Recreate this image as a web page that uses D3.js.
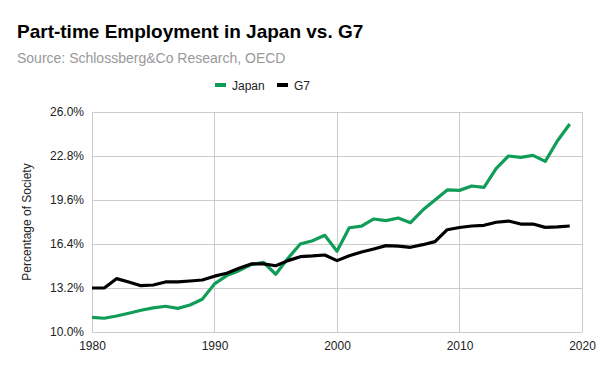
<!DOCTYPE html>
<html><head><meta charset="utf-8">
<script src="https://cdn.jsdelivr.net/npm/d3@7"></script>
<style>body{margin:0;background:#fff}svg{display:block;font-family:"Liberation Sans",Arial,sans-serif}</style>
</head><body>
<script>
const years = d3.range(1980, 2020);
const japan = [11.07,11.0,11.16,11.36,11.58,11.75,11.87,11.72,11.96,12.38,13.5,14.1,14.46,14.9,15.07,14.2,15.36,16.4,16.64,17.03,15.88,17.58,17.7,18.22,18.1,18.29,17.95,18.87,19.6,20.33,20.3,20.62,20.52,21.9,22.8,22.7,22.85,22.41,23.91,25.13];
const g7 = [13.2,13.2,13.88,13.64,13.37,13.42,13.64,13.64,13.71,13.78,14.06,14.27,14.63,14.95,14.95,14.82,15.19,15.48,15.53,15.6,15.19,15.55,15.82,16.04,16.28,16.25,16.16,16.35,16.57,17.44,17.6,17.71,17.76,17.98,18.07,17.85,17.85,17.61,17.64,17.71];
const yTicks = [10.0,13.2,16.4,19.6,22.8,26.0];
const xTicks = [1980,1990,2000,2010,2020];
const seriesNames = ["Japan","G7"];
const colors = ["#0f9d58","#000000"];

const W=600,H=371;
const svg=d3.select("body").append("svg").attr("width",W).attr("height",H);
const m={l:92,r:18,t:112,b:39};
const x=d3.scaleLinear().domain([1980,2020]).range([m.l,W-m.r]);
const y=d3.scaleLinear().domain([10,26]).range([H-m.b,m.t]);

svg.append("text").attr("x",17).attr("y",38).attr("font-size",19).attr("font-weight","bold").attr("fill","#000").text("Part-time Employment in Japan vs. G7");
svg.append("text").attr("x",17).attr("y",63).attr("font-size",14).attr("fill","#999").text("Source: Schlossberg&Co Research, OECD");

// grid
const g=svg.append("g");
g.selectAll(".hy").data(yTicks).join("line").attr("x1",m.l).attr("x2",W-m.r).attr("y1",d=>y(d)).attr("y2",d=>y(d)).attr("stroke","#cccccc").attr("stroke-width",1).attr("shape-rendering","crispEdges");
g.selectAll(".vx").data(xTicks).join("line").attr("x1",d=>x(d)).attr("x2",d=>x(d)).attr("y1",m.t).attr("y2",H-m.b).attr("stroke","#cccccc").attr("stroke-width",1).attr("shape-rendering","crispEdges");

// axes
const yAxis=d3.axisLeft(y).tickValues(yTicks).tickFormat(d=>d.toFixed(1)+"%").tickSize(0).tickPadding(8);
const ya=svg.append("g").attr("transform",`translate(${m.l},0)`).call(yAxis);
ya.select(".domain").remove();
ya.selectAll("text").attr("font-size",12).attr("fill","#222").attr("font-family","Liberation Sans, Arial, sans-serif");
const xAxis=d3.axisBottom(x).tickValues(xTicks).tickFormat(d3.format("d")).tickSize(0).tickPadding(9);
const xa=svg.append("g").attr("transform",`translate(0,${H-m.b})`).call(xAxis);
xa.select(".domain").remove();
xa.selectAll("text").attr("font-size",12).attr("fill","#222").attr("font-family","Liberation Sans, Arial, sans-serif");

svg.append("text").attr("transform",`translate(31,${(m.t+H-m.b)/2}) rotate(-90)`).attr("text-anchor","middle").attr("font-size",12).attr("fill","#222").text("Percentage of Society");

const line=d3.line().x((d,i)=>x(years[i])).y(d=>y(d));
[japan,g7].forEach((s,k)=>{
  svg.append("path").datum(s).attr("d",line).attr("fill","none").attr("stroke",colors[k]).attr("stroke-width",3.2).attr("stroke-linejoin","round");
});

// legend
const lg=svg.append("g");
const lx=[215,277];
seriesNames.forEach((n,k)=>{
  lg.append("rect").attr("x",lx[k]).attr("y",83).attr("width",11).attr("height",4).attr("fill",colors[k]);
  lg.append("text").attr("x",lx[k]+17).attr("y",89.5).attr("font-size",12).attr("fill","#222").text(n);
});
</script>
</body></html>
